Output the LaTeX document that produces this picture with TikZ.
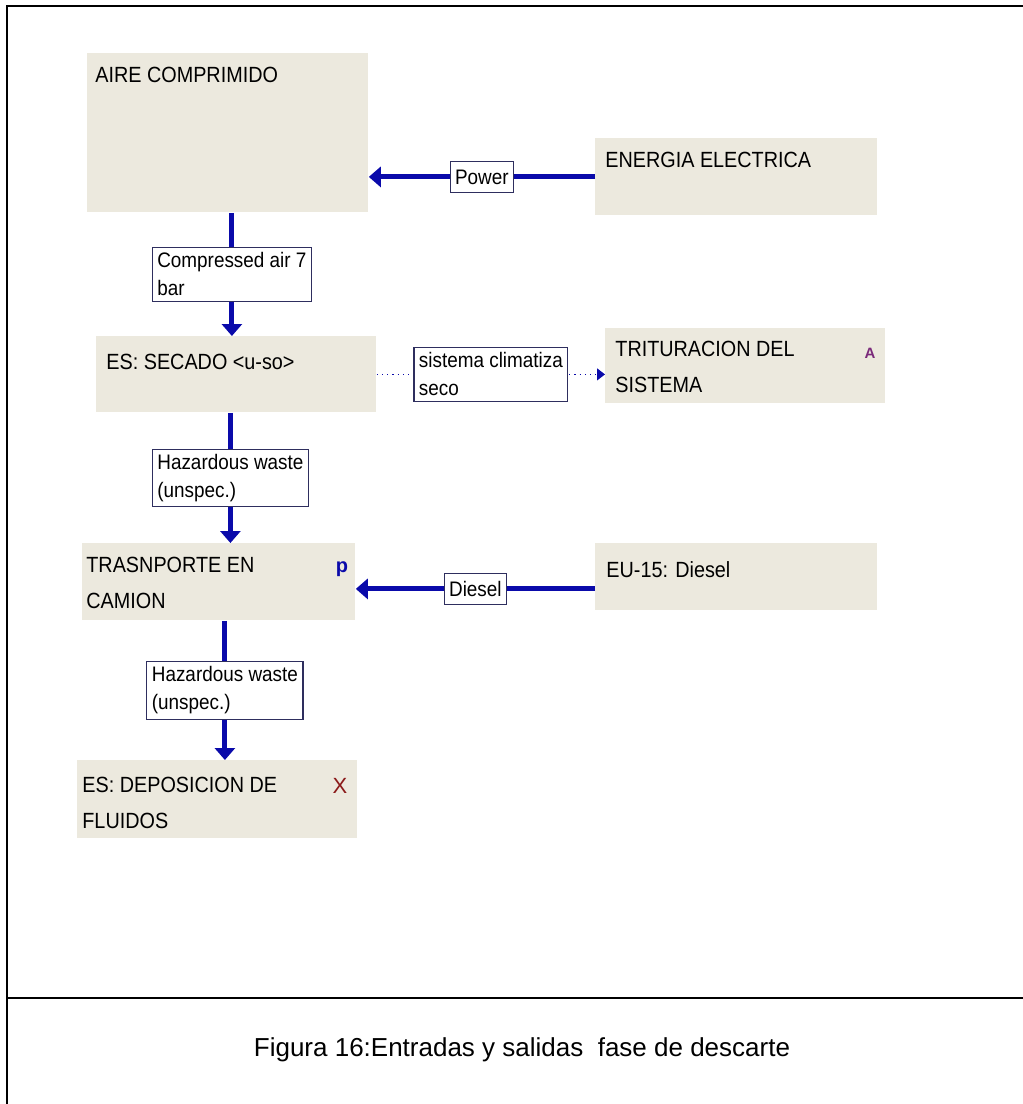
\documentclass[tikz,border=0pt]{standalone}
\usepackage{fontspec}
\setmainfont{Liberation Sans}
\newfontfamily\diafont{Liberation Sans}[FakeStretch=0.9]
\usetikzlibrary{arrows.meta}
\definecolor{procfill}{HTML}{ECE9DE}
\definecolor{flowblue}{HTML}{0A0AAA}
\definecolor{tagframe}{HTML}{2E2E5E}
\definecolor{markpurple}{HTML}{7A2A7A}
\definecolor{markred}{HTML}{8B1A1A}
\begin{document}
\begin{tikzpicture}[x=0.5pt,y=-0.5pt,
  proc/.style={fill=procfill, draw=none, anchor=north west, inner sep=0pt},
  ptext/.style={anchor=north west, inner sep=0pt, align=left,
    font=\diafont\fontsize{11}{18}\selectfont},
  flow/.style={draw=flowblue, line width=2.5pt, -{Triangle[width=10pt,length=6pt]}},
  dotflow/.style={draw=flowblue, line width=0.6pt, dotted,
    -{Triangle[width=6pt,length=4pt]}},
  tag/.style={fill=white, draw=tagframe, solid, line width=0.6pt, align=left,
    font=\diafont\fontsize{10.5}{14}\selectfont, inner xsep=2.5pt, inner ysep=2.5pt},
  frame/.style={line width=1.4pt, draw=black},
]
\useasboundingbox (0,0) rectangle (1023,1104);

% page frame and caption rule
\coordinate (tl) at (7,6);
\coordinate (tr) at (1023,6);
\coordinate (bl) at (7,1104);
\coordinate (rl) at (7,998);
\coordinate (rr) at (1023,998);
\draw[frame] (bl) -- (tl) -- (tr);
\draw[frame] (rl) -- (rr);

% process boxes
\node[proc, minimum width=140.5pt, minimum height=79.5pt] (air)    at (87,53)  {};
\node[proc, minimum width=141pt,   minimum height=38.5pt] (elec)   at (595,138) {};
\node[proc, minimum width=140pt,   minimum height=38pt]   (dry)    at (96,336) {};
\node[proc, minimum width=140pt,   minimum height=37.5pt] (trit)   at (605,328) {};
\node[proc, minimum width=136.5pt, minimum height=38.5pt] (truck)  at (82,543) {};
\node[proc, minimum width=141pt,   minimum height=33.5pt] (diesel) at (595,543) {};
\node[proc, minimum width=140pt,   minimum height=39pt]   (dep)    at (77,760) {};

% box titles
\node[ptext] (airT)    at ([xshift=4pt,yshift=-7pt]air.north west)    {AIRE COMPRIMIDO};
\node[ptext] (elecT)   at ([xshift=5pt,yshift=-7pt]elec.north west)   {ENERGIA ELECTRICA};
\node[ptext] (dryT)    at ([xshift=5pt,yshift=-9pt]dry.north west)    {ES: SECADO <u-so>};
\node[ptext] (tritT)   at ([xshift=5pt,yshift=-6.5pt]trit.north west) {TRITURACION DEL\\SISTEMA};
\node[ptext] (truckT)  at ([xshift=2pt,yshift=-7pt]truck.north west)  {TRASNPORTE EN\\CAMION};
\node[ptext] (dieselT) at ([xshift=5.5pt,yshift=-9pt]diesel.north west) {EU-15: Diesel};
\node[ptext] (depT)    at ([xshift=2.5pt,yshift=-8.5pt]dep.north west) {ES: DEPOSICION DE\\FLUIDOS};

% type markers
\node[font=\fontsize{7.5}{8}\selectfont\bfseries, text=markpurple, inner sep=0pt] (tritM) at (870,353) {A};
\node[font=\fontsize{10}{10}\selectfont\bfseries, text=flowblue, inner sep=0pt] (truckM) at (342,569) {p};
\node[font=\fontsize{11}{11}\selectfont, text=markred, inner sep=0pt] (depM) at (340,786) {X};

% flows
\draw[flow] (elec.west) -- node[tag, minimum height=15.5pt] (pw) {Power} (elec.west -| air.east);
\draw[flow] ([xshift=2pt]air.south) -- node[tag] (ca) {Compressed air 7\\bar} ([xshift=2pt]air.south |- dry.north);
\draw[dotflow] (dry.east) -- node[tag] (sc) {sistema climatiza\\seco} (dry.east -| trit.west);
\draw[flow] ([xshift=-3pt]dry.south) -- node[tag] (hw1) {Hazardous waste\\(unspec.)} ([xshift=-3pt]dry.south |- truck.north);
\draw[flow] ([yshift=-6pt]diesel.west) -- node[tag, minimum height=15.5pt] (ds) {Diesel} ([yshift=-6pt]diesel.west -| truck.east);
\draw[flow] ([xshift=3pt]truck.south) -- node[tag] (hw2) {Hazardous waste\\(unspec.)} ([xshift=3pt]truck.south |- dep.north);

% caption
\node[font=\fontsize{13}{15}\selectfont, inner sep=0pt] (cap) at (522,1050)
  {Figura 16:Entradas y salidas\ \ fase de descarte};
\end{tikzpicture}
\end{document}
